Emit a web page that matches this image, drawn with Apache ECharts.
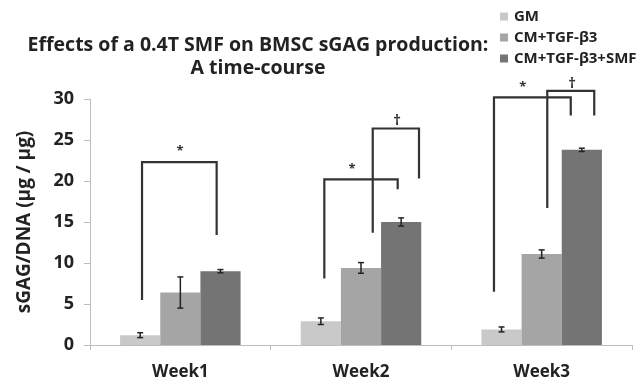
<!DOCTYPE html>
<html>
<head>
<meta charset="utf-8">
<style>
  html, body { margin: 0; padding: 0; background: #fff; }
  #chart { width: 643px; height: 388px; }
</style>
<script src="https://cdn.jsdelivr.net/npm/echarts@6/dist/echarts.min.js"></script>
</head>
<body>
<div id="chart"></div>
<script>
// sGAG/DNA over three weeks for three culture conditions
const categories = ['Week1', 'Week2', 'Week3'];
const seriesNames = ['GM', 'CM+TGF-β3', 'CM+TGF-β3+SMF'];
const gmValues = [1.2, 2.9, 1.9];
const cmValues = [6.4, 9.4, 11.1];
const smfValues = [9.0, 15.0, 23.8];
const gmErrors = [0.3, 0.4, 0.3];
const cmErrors = [1.9, 0.65, 0.5];
const smfErrors = [0.2, 0.5, 0.2];
const yTicks = { min: 0, max: 30, interval: 5 };

// Significance brackets on a 0..3 horizontal scale (one unit per week):
// [leftX, rightX, leftBottom, rightBottom, top, labelX, symbol]
const brackets = [
  [0.288, 0.701, 5.5, 13.4, 22.3, 0.498, '*'],
  [1.297, 1.703, 8.1, 19.0, 20.2, 1.45, '*'],
  [1.565, 1.821, 13.7, 20.3, 26.4, 1.70, '†'],
  [2.236, 2.661, 6.5, 28.0, 30.2, 2.395, '*'],
  [2.531, 2.791, 16.7, 28.0, 31.0, 2.669, '†']
];

const colors = ['#c9c9c9', '#a5a5a5', '#747474'];
const values = [gmValues, cmValues, smfValues];
const errors = [gmErrors, cmErrors, smfErrors];
const gapRatio = 1 / 3;
const FONT = 'Open Sans';

const chart = echarts.init(document.getElementById('chart'));

const barSeries = seriesNames.map((name, i) => ({
  name: name,
  type: 'bar',
  data: values[i],
  barGap: 0,
  barCategoryGap: '33.3%',
  itemStyle: { color: colors[i] },
  z: 2
}));

const errorSeries = seriesNames.map((name, i) => ({
  type: 'custom',
  name: name + ' error',
  data: values[i].map((v, k) => [k, v - errors[i][k], v + errors[i][k]]),
  encode: { x: 0, y: [1, 2] },
  renderItem: function (params, api) {
    const catW = api.size([1, 0])[0];
    const barW = catW * (1 - gapRatio) / 3;
    const lo = api.coord([api.value(0), api.value(1)]);
    const hi = api.coord([api.value(0), api.value(2)]);
    const x = lo[0] + (i - 1) * barW;
    const cap = 3;
    const style = { stroke: '#222', lineWidth: 1.5 };
    return {
      type: 'group',
      children: [
        { type: 'line', shape: { x1: x, y1: lo[1], x2: x, y2: hi[1] }, style: style },
        { type: 'line', shape: { x1: x - cap, y1: lo[1], x2: x + cap, y2: lo[1] }, style: style },
        { type: 'line', shape: { x1: x - cap, y1: hi[1], x2: x + cap, y2: hi[1] }, style: style }
      ]
    };
  },
  z: 5,
  silent: true,
  tooltip: { show: false }
}));

const bracketSeries = {
  type: 'custom',
  name: 'brackets',
  xAxisIndex: 1,
  yAxisIndex: 0,
  clip: false,
  data: brackets.map(b => b.slice(0, 6)),
  renderItem: function (params, api) {
    const b = brackets[params.dataIndex];
    const pL = api.coord([b[0], b[2]]);
    const pLT = api.coord([b[0], b[4]]);
    const pRT = api.coord([b[1], b[4]]);
    const pR = api.coord([b[1], b[3]]);
    const pLab = api.coord([b[5], b[4]]);
    const isDagger = b[6] === '†';
    return {
      type: 'group',
      children: [
        {
          type: 'polyline',
          shape: { points: [pL, pLT, pRT, pR] },
          style: { stroke: '#333', lineWidth: 2.2, fill: null }
        },
        {
          type: 'text',
          style: {
            x: pLab[0],
            y: pLab[1] - (isDagger ? 0 : 4),
            text: b[6],
            fill: '#333',
            font: isDagger ? 'bold 15px "Open Sans"' : 'bold 13px "Open Sans"',
            textAlign: 'center',
            textVerticalAlign: 'bottom'
          }
        }
      ]
    };
  },
  z: 6,
  silent: true
};

chart.setOption({
  animation: false,
  title: {
    text: 'Effects of a 0.4T SMF on BMSC sGAG production:\nA time-course',
    left: 253,
    top: 29,
    textAlign: 'center',
    textStyle: {
      fontFamily: FONT,
      fontWeight: 'bold',
      fontSize: 19.5,
      lineHeight: 23,
      color: '#222'
    }
  },
  legend: {
    data: seriesNames,
    orient: 'vertical',
    left: 500,
    top: 8,
    padding: 0,
    itemWidth: 8,
    itemHeight: 8,
    itemGap: 4,
    icon: 'rect',
    textStyle: {
      fontFamily: FONT,
      fontWeight: 'bold',
      fontSize: 15,
      lineHeight: 17,
      color: '#222',
      padding: [0, 0, 0, 1]
    }
  },
  grid: { left: 90, right: 11, top: 99, bottom: 43, containLabel: false },
  xAxis: [
    {
      type: 'category',
      data: categories,
      axisLine: { show: true, lineStyle: { color: '#bdbdbd', width: 1 } },
      axisTick: { show: true, length: 5, lineStyle: { color: '#bdbdbd' } },
      axisLabel: {
        fontFamily: FONT,
        fontWeight: 'bold',
        fontSize: 17,
        color: '#222',
        margin: 19
      }
    },
    { type: 'value', min: 0, max: 3, show: false }
  ],
  yAxis: {
    type: 'value',
    min: yTicks.min,
    max: yTicks.max,
    interval: yTicks.interval,
    name: 'sGAG/DNA (μg / μg)',
    nameLocation: 'middle',
    nameGap: 56,
    nameTextStyle: {
      fontFamily: FONT,
      fontWeight: 'bold',
      fontSize: 19,
      color: '#222'
    },
    axisLine: { show: true, lineStyle: { color: '#bdbdbd', width: 1 } },
    axisTick: { show: true, length: 6, lineStyle: { color: '#bdbdbd' } },
    splitLine: { show: false },
    axisLabel: {
      fontFamily: FONT,
      fontWeight: 'bold',
      fontSize: 18,
      color: '#222',
      margin: 16
    }
  },
  series: [...barSeries, ...errorSeries, bracketSeries]
});
</script>
</body>
</html>
